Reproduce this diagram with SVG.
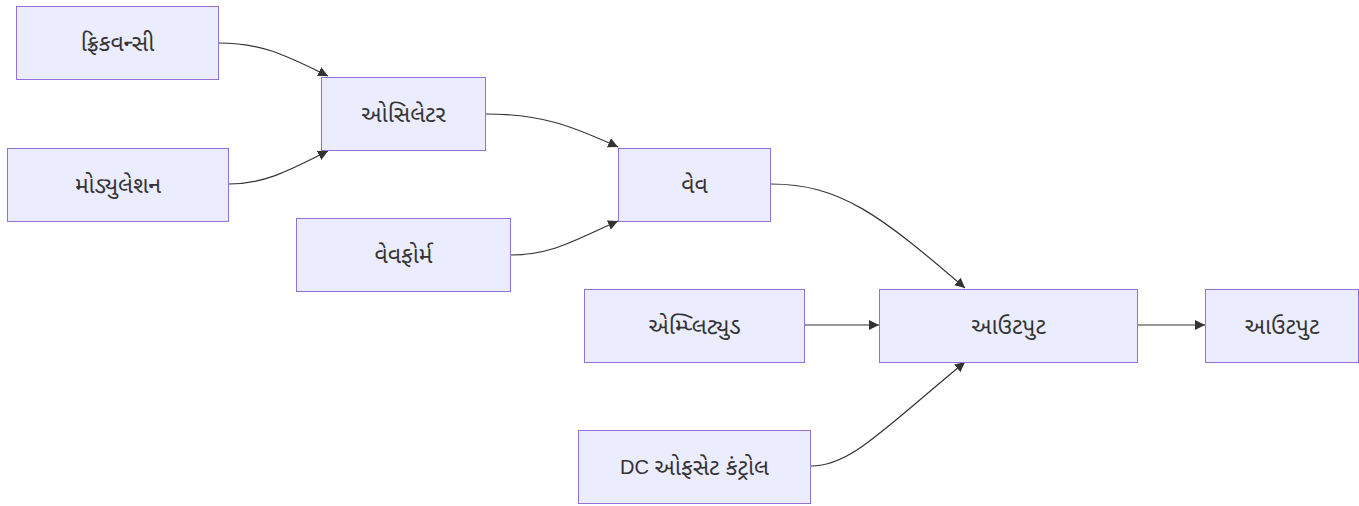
<svg xmlns="http://www.w3.org/2000/svg" width="1359" height="506" viewBox="0 0 1359 506">
<style>
.node rect{fill:#ECECFF;stroke:#9370DB;stroke-width:1}
.node text{font-family:"Liberation Sans","Noto Sans","Noto Sans Gujarati",sans-serif;font-size:23px;font-weight:400;fill:#333;text-anchor:middle;dominant-baseline:central}
.node .lat{font-size:20px}
.edges path{fill:none;stroke:#333;stroke-width:1.2;marker-end:url(#arrow)}
</style>
<defs>
<marker id="arrow" viewBox="0 0 10 10" refX="10" refY="5" markerWidth="10" markerHeight="10" markerUnits="userSpaceOnUse" orient="auto">
<path d="M0,0 L10,5 L0,10 z" fill="#333"/>
</marker>
</defs>
<rect width="1359" height="506" fill="#fff"/>
<g class="edges">
<path d="M219,43 C262,43 285,55 328,76"/>
<path d="M229,184 C265,184 290,170 328,151"/>
<path d="M486,114 C540,114 570,125 618,147"/>
<path d="M511,255 C552,255 575,240 618,221"/>
<path d="M771,184 C840,184 880,215 965,288"/>
<path d="M805,325 L879,325"/>
<path d="M811,466 C850,466 880,432 965,362"/>
<path d="M1138,325 L1205,325"/>
</g>
<g id="n1" class="node"><rect x="16.5" y="6.5" width="202" height="73"/><text x="117.5" y="43">ફ્રિકવન્સી</text></g>
<g id="n2" class="node"><rect x="7.5" y="148.5" width="221" height="73"/><text x="118" y="185">મોડ્યુલેશન</text></g>
<g id="n3" class="node"><rect x="321.5" y="77.5" width="164" height="73"/><text x="403.5" y="114">ઓસિલેટર</text></g>
<g id="n4" class="node"><rect x="296.5" y="218.5" width="214" height="73"/><text x="403.5" y="255">વેવફોર્મ</text></g>
<g id="n5" class="node"><rect x="618.5" y="148.5" width="152" height="73"/><text x="694.5" y="185">વેવ</text></g>
<g id="n6" class="node"><rect x="584.5" y="289.5" width="220" height="73"/><text x="694.5" y="326">એમ્પ્લિટ્યુડ</text></g>
<g id="n7" class="node"><rect x="578.5" y="430.5" width="232" height="73"/><text x="694.5" y="467"><tspan class="lat">DC </tspan>ઓફસેટ કંટ્રોલ</text></g>
<g id="n8" class="node"><rect x="879.5" y="289.5" width="258" height="73"/><text x="1008.5" y="326">આઉટપુટ</text></g>
<g id="n9" class="node"><rect x="1205.5" y="289.5" width="153" height="73"/><text x="1282" y="326">આઉટપુટ</text></g>
</svg>
